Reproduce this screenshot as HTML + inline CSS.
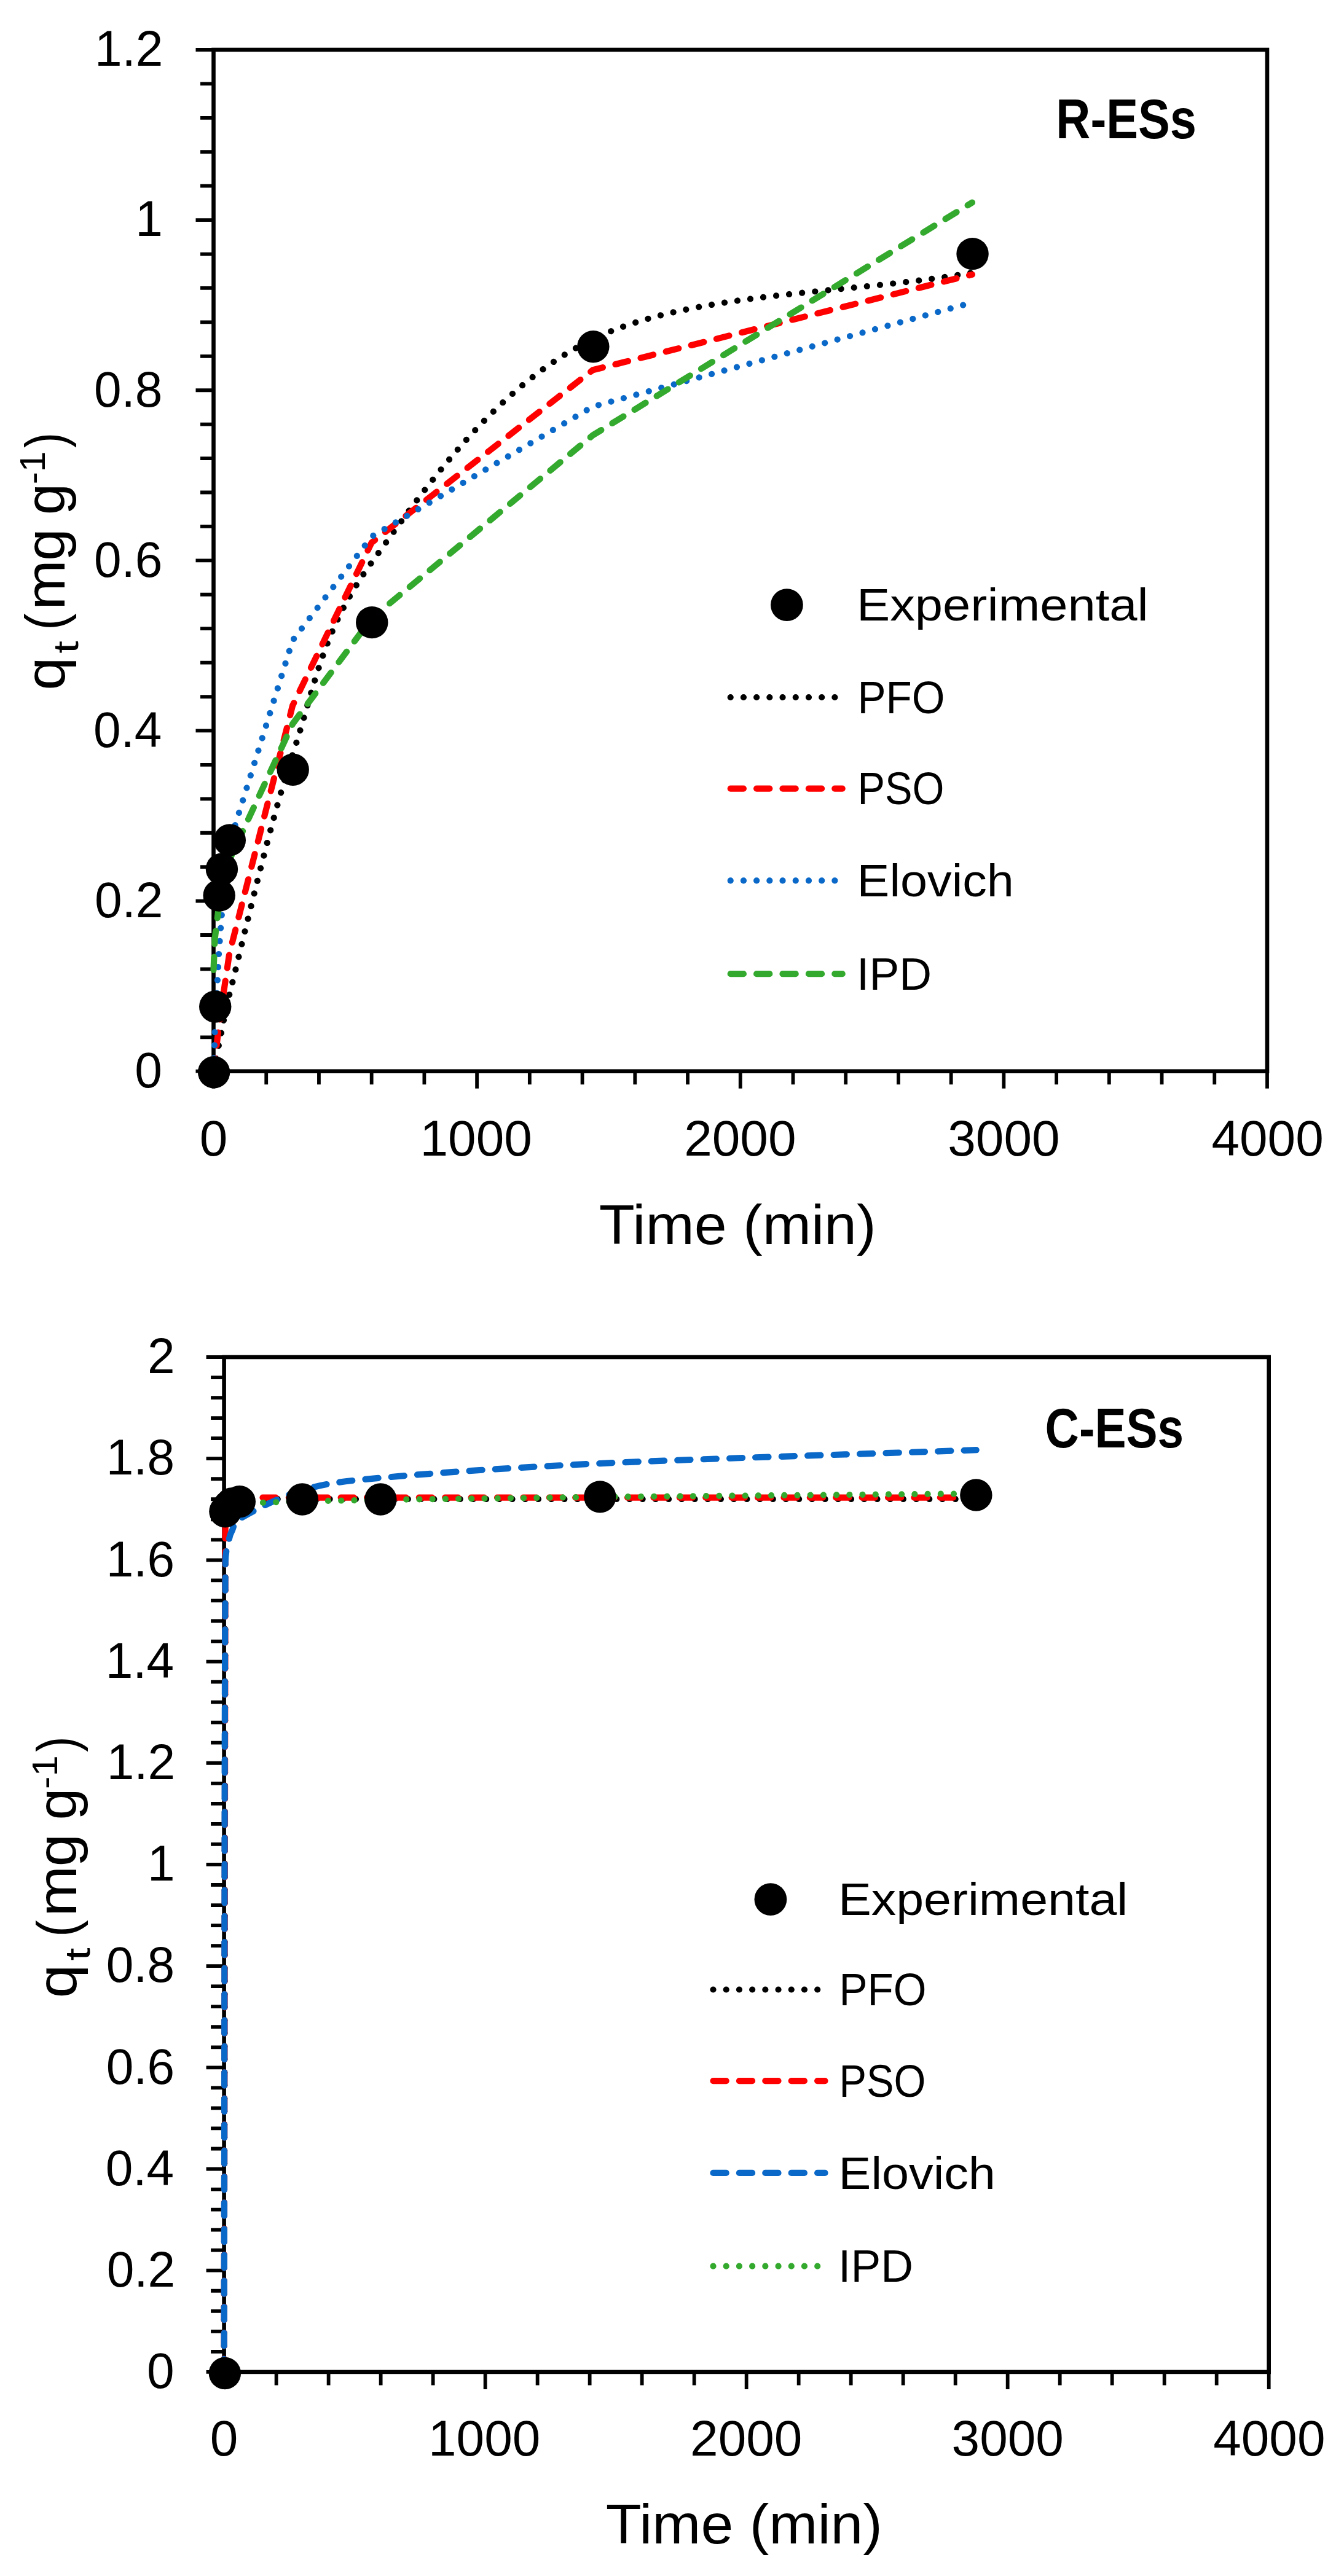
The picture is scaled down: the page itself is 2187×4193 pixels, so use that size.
<!DOCTYPE html>
<html><head><meta charset="utf-8"><title>Adsorption kinetics</title>
<style>html,body{margin:0;padding:0;background:#fff}svg{display:block}text{font-family:"Liberation Sans", sans-serif;fill:#000}</style>
</head><body>
<svg width="2187" height="4193" viewBox="0 0 2187 4193">
<rect width="2187" height="4193" fill="#fff"/>
<rect x="347.50" y="81.00" width="1714.50" height="1662.70" fill="none" stroke="#000" stroke-width="6.6"/>
<path d="M318.50,81.00H347.50M326.00,136.42H347.50M326.00,191.85H347.50M326.00,247.27H347.50M326.00,302.69H347.50M318.50,358.12H347.50M326.00,413.54H347.50M326.00,468.96H347.50M326.00,524.39H347.50M326.00,579.81H347.50M318.50,635.23H347.50M326.00,690.66H347.50M326.00,746.08H347.50M326.00,801.50H347.50M326.00,856.93H347.50M318.50,912.35H347.50M326.00,967.77H347.50M326.00,1023.20H347.50M326.00,1078.62H347.50M326.00,1134.04H347.50M318.50,1189.47H347.50M326.00,1244.89H347.50M326.00,1300.31H347.50M326.00,1355.74H347.50M326.00,1411.16H347.50M318.50,1466.58H347.50M326.00,1522.01H347.50M326.00,1577.43H347.50M326.00,1632.85H347.50M326.00,1688.28H347.50M318.50,1743.70H347.50M347.50,1743.70V1771.70M433.23,1743.70V1765.20M518.95,1743.70V1765.20M604.67,1743.70V1765.20M690.40,1743.70V1765.20M776.12,1743.70V1771.70M861.85,1743.70V1765.20M947.58,1743.70V1765.20M1033.30,1743.70V1765.20M1119.03,1743.70V1765.20M1204.75,1743.70V1771.70M1290.47,1743.70V1765.20M1376.20,1743.70V1765.20M1461.92,1743.70V1765.20M1547.65,1743.70V1765.20M1633.38,1743.70V1771.70M1719.10,1743.70V1765.20M1804.83,1743.70V1765.20M1890.55,1743.70V1765.20M1976.28,1743.70V1765.20M2062.00,1743.70V1771.70" stroke="#000" stroke-width="5.8" fill="none"/>
<text x="153.88" y="107.30" font-size="81" font-weight="400" textLength="111.48" lengthAdjust="spacingAndGlyphs">1.2</text>
<text x="220.21" y="384.42" font-size="81" font-weight="400" textLength="44.61" lengthAdjust="spacingAndGlyphs">1</text>
<text x="152.89" y="661.53" font-size="81" font-weight="400" textLength="111.48" lengthAdjust="spacingAndGlyphs">0.8</text>
<text x="152.89" y="938.65" font-size="81" font-weight="400" textLength="111.48" lengthAdjust="spacingAndGlyphs">0.6</text>
<text x="151.90" y="1215.77" font-size="81" font-weight="400" textLength="111.48" lengthAdjust="spacingAndGlyphs">0.4</text>
<text x="153.88" y="1492.88" font-size="81" font-weight="400" textLength="111.48" lengthAdjust="spacingAndGlyphs">0.2</text>
<text x="219.22" y="1770.00" font-size="81" font-weight="400" textLength="44.61" lengthAdjust="spacingAndGlyphs">0</text>
<text x="324.73" y="1880.80" font-size="81" font-weight="400" textLength="45.60" lengthAdjust="spacingAndGlyphs">0</text>
<text x="683.53" y="1880.80" font-size="81" font-weight="400" textLength="182.37" lengthAdjust="spacingAndGlyphs">1000</text>
<text x="1113.16" y="1880.80" font-size="81" font-weight="400" textLength="182.37" lengthAdjust="spacingAndGlyphs">2000</text>
<text x="1542.29" y="1880.80" font-size="81" font-weight="400" textLength="182.37" lengthAdjust="spacingAndGlyphs">3000</text>
<text x="1971.43" y="1880.80" font-size="81" font-weight="400" textLength="182.37" lengthAdjust="spacingAndGlyphs">4000</text>
<text x="974.69" y="2025.20" font-size="90" font-weight="400" textLength="450.96" lengthAdjust="spacingAndGlyphs">Time (min)</text>
<text x="1718.33" y="224.50" font-size="90" font-weight="700" textLength="228.59" lengthAdjust="spacingAndGlyphs">R-ESs</text>
<g transform="translate(104.50,1119.20) rotate(-90)"><text><tspan x="-4.30" y="0.00" font-size="90" font-weight="400" textLength="53.82" lengthAdjust="spacingAndGlyphs">q</tspan><tspan x="55.73" y="22.00" font-size="58" font-weight="400" textLength="20.43" lengthAdjust="spacingAndGlyphs">t</tspan><tspan font-size="40"> </tspan><tspan x="93.52" y="0.00" font-size="90" font-weight="400" textLength="27.38" lengthAdjust="spacingAndGlyphs">(</tspan><tspan x="126.49" y="0.00" font-size="90" font-weight="400" textLength="81.41" lengthAdjust="spacingAndGlyphs">m</tspan><tspan x="206.51" y="0.00" font-size="90" font-weight="400" textLength="52.44" lengthAdjust="spacingAndGlyphs">g</tspan><tspan font-size="40"> </tspan><tspan x="281.12" y="0.00" font-size="90" font-weight="400" textLength="51.06" lengthAdjust="spacingAndGlyphs">g</tspan><tspan x="330.87" y="-31.50" font-size="58" font-weight="400" textLength="53.82" lengthAdjust="spacingAndGlyphs">-1</tspan><tspan x="390.17" y="0.00" font-size="90" font-weight="400" textLength="24.77" lengthAdjust="spacingAndGlyphs">)</tspan></text></g>
<path d="M347.50,1743.70 C348.21,1740.08 348.56,1738.26 349.64,1732.83 C351.07,1725.68 354.29,1709.60 356.07,1700.77 C357.86,1691.94 358.16,1690.29 360.36,1679.84 C363.22,1666.22 365.51,1649.16 373.22,1619.08 C392.51,1543.84 437.51,1345.60 476.09,1228.35 C514.66,1111.11 523.24,1028.33 604.67,915.62 C686.11,802.92 801.84,630.77 964.72,552.13 C1127.60,473.49 1376.20,479.90 1581.94,443.78" fill="none" stroke="#000" stroke-width="10.2" stroke-linecap="round" stroke-linejoin="round" stroke-dasharray="0.01 21.2"/>
<path d="M347.50,1743.70 L349.64,1724.99 L356.07,1671.65 L360.36,1639.78 L373.22,1552.49 L476.09,1148.59 L604.67,883.25 L964.72,602.26 L1581.94,446.79" fill="none" stroke="#ff0000" stroke-width="10.2" stroke-linecap="round" stroke-linejoin="round" stroke-dasharray="21.2 21.2"/>
<path d="M347.50,1743.70 L349.64,1680.10 L356.07,1552.49 L360.36,1493.88 L373.22,1373.33 L476.09,1042.59 L604.67,873.55 L964.72,661.84 L1581.94,492.52" fill="none" stroke="#0a68c8" stroke-width="10.2" stroke-linecap="round" stroke-linejoin="round" stroke-dasharray="0.01 21.2"/>
<path d="M347.50,1578.82 L349.64,1527.55 L356.07,1475.45 L360.36,1452.17 L373.22,1399.80 L476.09,1178.38 L604.67,1006.57 L964.72,708.39 L1581.94,329.71" fill="none" stroke="#33a92d" stroke-width="10.2" stroke-linecap="round" stroke-linejoin="round" stroke-dasharray="21.2 21.2"/>
<circle cx="348.10" cy="1745.20" r="26.2" fill="#000"/>
<circle cx="350.24" cy="1638.56" r="26.2" fill="#000"/>
<circle cx="356.67" cy="1457.61" r="26.2" fill="#000"/>
<circle cx="360.96" cy="1414.65" r="26.2" fill="#000"/>
<circle cx="373.82" cy="1367.41" r="26.2" fill="#000"/>
<circle cx="476.69" cy="1252.82" r="26.2" fill="#000"/>
<circle cx="605.27" cy="1013.11" r="26.2" fill="#000"/>
<circle cx="965.32" cy="564.18" r="26.2" fill="#000"/>
<circle cx="1582.54" cy="413.15" r="26.2" fill="#000"/>
<circle cx="1280.40" cy="984.60" r="26.4" fill="#000"/>
<text x="1393.90" y="1010.40" font-size="74" font-weight="400" textLength="474.74" lengthAdjust="spacingAndGlyphs">Experimental</text>
<path d="M1188.70,1135.00H1370.70" fill="none" stroke="#000" stroke-width="10.2" stroke-linecap="round" stroke-linejoin="round" stroke-dasharray="0.01 21.2"/>
<text x="1395.40" y="1160.60" font-size="74" font-weight="400" textLength="141.95" lengthAdjust="spacingAndGlyphs">PFO</text>
<path d="M1188.70,1283.60H1370.70" fill="none" stroke="#ff0000" stroke-width="10.2" stroke-linecap="round" stroke-linejoin="round" stroke-dasharray="21.2 21.2"/>
<text x="1395.59" y="1309.20" font-size="74" font-weight="400" textLength="140.87" lengthAdjust="spacingAndGlyphs">PSO</text>
<path d="M1188.70,1433.40H1370.70" fill="none" stroke="#0a68c8" stroke-width="10.2" stroke-linecap="round" stroke-linejoin="round" stroke-dasharray="0.01 21.2"/>
<text x="1394.58" y="1459.00" font-size="74" font-weight="400" textLength="255.30" lengthAdjust="spacingAndGlyphs">Elovich</text>
<path d="M1188.70,1585.20H1370.70" fill="none" stroke="#33a92d" stroke-width="10.2" stroke-linecap="round" stroke-linejoin="round" stroke-dasharray="21.2 21.2"/>
<text x="1394.09" y="1610.80" font-size="74" font-weight="400" textLength="121.83" lengthAdjust="spacingAndGlyphs">IPD</text>
<rect x="364.60" y="2209.00" width="1700.10" height="1651.90" fill="none" stroke="#000" stroke-width="6.6"/>
<path d="M335.60,2209.00H364.60M343.10,2242.04H364.60M343.10,2275.08H364.60M343.10,2308.11H364.60M343.10,2341.15H364.60M335.60,2374.19H364.60M343.10,2407.23H364.60M343.10,2440.27H364.60M343.10,2473.30H364.60M343.10,2506.34H364.60M335.60,2539.38H364.60M343.10,2572.42H364.60M343.10,2605.46H364.60M343.10,2638.49H364.60M343.10,2671.53H364.60M335.60,2704.57H364.60M343.10,2737.61H364.60M343.10,2770.65H364.60M343.10,2803.68H364.60M343.10,2836.72H364.60M335.60,2869.76H364.60M343.10,2902.80H364.60M343.10,2935.84H364.60M343.10,2968.87H364.60M343.10,3001.91H364.60M335.60,3034.95H364.60M343.10,3067.99H364.60M343.10,3101.03H364.60M343.10,3134.06H364.60M343.10,3167.10H364.60M335.60,3200.14H364.60M343.10,3233.18H364.60M343.10,3266.22H364.60M343.10,3299.25H364.60M343.10,3332.29H364.60M335.60,3365.33H364.60M343.10,3398.37H364.60M343.10,3431.41H364.60M343.10,3464.44H364.60M343.10,3497.48H364.60M335.60,3530.52H364.60M343.10,3563.56H364.60M343.10,3596.60H364.60M343.10,3629.63H364.60M343.10,3662.67H364.60M335.60,3695.71H364.60M343.10,3728.75H364.60M343.10,3761.79H364.60M343.10,3794.82H364.60M343.10,3827.86H364.60M335.60,3860.90H364.60M364.60,3860.90V3888.90M449.61,3860.90V3882.40M534.61,3860.90V3882.40M619.62,3860.90V3882.40M704.62,3860.90V3882.40M789.62,3860.90V3888.90M874.63,3860.90V3882.40M959.63,3860.90V3882.40M1044.64,3860.90V3882.40M1129.64,3860.90V3882.40M1214.65,3860.90V3888.90M1299.66,3860.90V3882.40M1384.66,3860.90V3882.40M1469.66,3860.90V3882.40M1554.67,3860.90V3882.40M1639.67,3860.90V3888.90M1724.68,3860.90V3882.40M1809.68,3860.90V3882.40M1894.69,3860.90V3882.40M1979.69,3860.90V3882.40M2064.70,3860.90V3888.90" stroke="#000" stroke-width="5.8" fill="none"/>
<text x="240.01" y="2235.30" font-size="81" font-weight="400" textLength="44.61" lengthAdjust="spacingAndGlyphs">2</text>
<text x="172.69" y="2400.49" font-size="81" font-weight="400" textLength="111.48" lengthAdjust="spacingAndGlyphs">1.8</text>
<text x="172.69" y="2565.68" font-size="81" font-weight="400" textLength="111.48" lengthAdjust="spacingAndGlyphs">1.6</text>
<text x="171.70" y="2730.87" font-size="81" font-weight="400" textLength="111.48" lengthAdjust="spacingAndGlyphs">1.4</text>
<text x="173.68" y="2896.06" font-size="81" font-weight="400" textLength="111.48" lengthAdjust="spacingAndGlyphs">1.2</text>
<text x="240.01" y="3061.25" font-size="81" font-weight="400" textLength="44.61" lengthAdjust="spacingAndGlyphs">1</text>
<text x="172.69" y="3226.44" font-size="81" font-weight="400" textLength="111.48" lengthAdjust="spacingAndGlyphs">0.8</text>
<text x="172.69" y="3391.63" font-size="81" font-weight="400" textLength="111.48" lengthAdjust="spacingAndGlyphs">0.6</text>
<text x="171.70" y="3556.82" font-size="81" font-weight="400" textLength="111.48" lengthAdjust="spacingAndGlyphs">0.4</text>
<text x="173.68" y="3722.01" font-size="81" font-weight="400" textLength="111.48" lengthAdjust="spacingAndGlyphs">0.2</text>
<text x="239.02" y="3887.20" font-size="81" font-weight="400" textLength="44.61" lengthAdjust="spacingAndGlyphs">0</text>
<text x="341.83" y="3997.00" font-size="81" font-weight="400" textLength="45.60" lengthAdjust="spacingAndGlyphs">0</text>
<text x="697.03" y="3997.00" font-size="81" font-weight="400" textLength="182.37" lengthAdjust="spacingAndGlyphs">1000</text>
<text x="1123.06" y="3997.00" font-size="81" font-weight="400" textLength="182.37" lengthAdjust="spacingAndGlyphs">2000</text>
<text x="1548.59" y="3997.00" font-size="81" font-weight="400" textLength="182.37" lengthAdjust="spacingAndGlyphs">3000</text>
<text x="1974.13" y="3997.00" font-size="81" font-weight="400" textLength="182.37" lengthAdjust="spacingAndGlyphs">4000</text>
<text x="985.79" y="4139.80" font-size="90" font-weight="400" textLength="450.15" lengthAdjust="spacingAndGlyphs">Time (min)</text>
<text x="1700.60" y="2356.30" font-size="90" font-weight="700" textLength="225.57" lengthAdjust="spacingAndGlyphs">C-ESs</text>
<g transform="translate(124.30,3247.80) rotate(-90)"><text><tspan x="-4.36" y="0.00" font-size="90" font-weight="400" textLength="54.62" lengthAdjust="spacingAndGlyphs">q</tspan><tspan x="56.57" y="22.00" font-size="58" font-weight="400" textLength="20.73" lengthAdjust="spacingAndGlyphs">t</tspan><tspan font-size="40"> </tspan><tspan x="94.92" y="0.00" font-size="90" font-weight="400" textLength="27.79" lengthAdjust="spacingAndGlyphs">(</tspan><tspan x="128.38" y="0.00" font-size="90" font-weight="400" textLength="82.63" lengthAdjust="spacingAndGlyphs">m</tspan><tspan x="209.61" y="0.00" font-size="90" font-weight="400" textLength="53.23" lengthAdjust="spacingAndGlyphs">g</tspan><tspan font-size="40"> </tspan><tspan x="285.34" y="0.00" font-size="90" font-weight="400" textLength="51.83" lengthAdjust="spacingAndGlyphs">g</tspan><tspan x="335.83" y="-31.50" font-size="58" font-weight="400" textLength="54.63" lengthAdjust="spacingAndGlyphs">-1</tspan><tspan x="396.03" y="0.00" font-size="90" font-weight="400" textLength="25.14" lengthAdjust="spacingAndGlyphs">)</tspan></text></g>
<path d="M364.60,3860.90 L366.73,2440.02 L373.10,2440.02 L377.35,2440.02 L390.10,2440.02 L492.11,2440.02 L619.62,2440.02 L976.64,2440.02 L1588.67,2440.02" fill="none" stroke="#000" stroke-width="10.2" stroke-linecap="round" stroke-linejoin="round" stroke-dasharray="0.01 21.2"/>
<path d="M364.60,3860.90 L366.73,2437.62 L373.10,2437.62 L377.35,2437.62 L390.10,2437.62 L492.11,2437.62 L619.62,2437.62 L976.64,2437.62 L1588.67,2437.62" fill="none" stroke="#ff0000" stroke-width="10.2" stroke-linecap="round" stroke-linejoin="round" stroke-dasharray="21.2 21.2"/>
<path d="M364.60,3860.90 C365.31,3421.90 365.31,2770.08 366.73,2543.90 C366.85,2523.61 371.33,2512.46 373.10,2503.82 C374.35,2497.72 374.52,2497.39 377.35,2492.10 C380.18,2486.81 379.83,2478.02 390.10,2472.06 C409.23,2460.97 453.86,2436.63 492.11,2425.54 C530.36,2414.44 555.34,2411.27 619.62,2405.50 C700.37,2398.25 815.13,2389.59 976.64,2382.04 C1138.15,2374.48 1384.66,2367.45 1588.67,2360.15" fill="none" stroke="#0a68c8" stroke-width="10.2" stroke-linecap="round" stroke-linejoin="round" stroke-dasharray="21.2 21.2"/>
<path d="M364.60,2449.68 L366.73,2448.91 L373.10,2448.14 L377.35,2447.80 L390.10,2447.01 L492.11,2443.72 L619.62,2441.25 L976.64,2436.61 L1588.67,2431.20" fill="none" stroke="#33a92d" stroke-width="10.2" stroke-linecap="round" stroke-linejoin="round" stroke-dasharray="0.01 21.2"/>
<circle cx="365.90" cy="3863.00" r="26.2" fill="#000"/>
<circle cx="366.43" cy="2460.30" r="26.2" fill="#000"/>
<circle cx="372.80" cy="2451.63" r="26.2" fill="#000"/>
<circle cx="377.05" cy="2447.50" r="26.2" fill="#000"/>
<circle cx="389.80" cy="2444.20" r="26.2" fill="#000"/>
<circle cx="491.81" cy="2440.56" r="26.2" fill="#000"/>
<circle cx="619.32" cy="2440.56" r="26.2" fill="#000"/>
<circle cx="976.34" cy="2436.35" r="26.2" fill="#000"/>
<circle cx="1588.37" cy="2433.46" r="26.2" fill="#000"/>
<circle cx="1253.90" cy="3091.60" r="26.4" fill="#000"/>
<text x="1363.95" y="3116.70" font-size="74" font-weight="400" textLength="471.35" lengthAdjust="spacingAndGlyphs">Experimental</text>
<path d="M1160.50,3238.50H1342.50" fill="none" stroke="#000" stroke-width="10.2" stroke-linecap="round" stroke-linejoin="round" stroke-dasharray="0.01 21.2"/>
<text x="1365.40" y="3264.10" font-size="74" font-weight="400" textLength="141.95" lengthAdjust="spacingAndGlyphs">PFO</text>
<path d="M1160.50,3387.10H1342.50" fill="none" stroke="#ff0000" stroke-width="10.2" stroke-linecap="round" stroke-linejoin="round" stroke-dasharray="21.2 21.2"/>
<text x="1365.59" y="3412.70" font-size="74" font-weight="400" textLength="140.87" lengthAdjust="spacingAndGlyphs">PSO</text>
<path d="M1160.50,3536.90H1342.50" fill="none" stroke="#0a68c8" stroke-width="10.2" stroke-linecap="round" stroke-linejoin="round" stroke-dasharray="21.2 21.2"/>
<text x="1364.58" y="3562.50" font-size="74" font-weight="400" textLength="255.30" lengthAdjust="spacingAndGlyphs">Elovich</text>
<path d="M1160.50,3688.70H1342.50" fill="none" stroke="#33a92d" stroke-width="10.2" stroke-linecap="round" stroke-linejoin="round" stroke-dasharray="0.01 21.2"/>
<text x="1364.09" y="3714.30" font-size="74" font-weight="400" textLength="121.83" lengthAdjust="spacingAndGlyphs">IPD</text>
</svg>
</body></html>
